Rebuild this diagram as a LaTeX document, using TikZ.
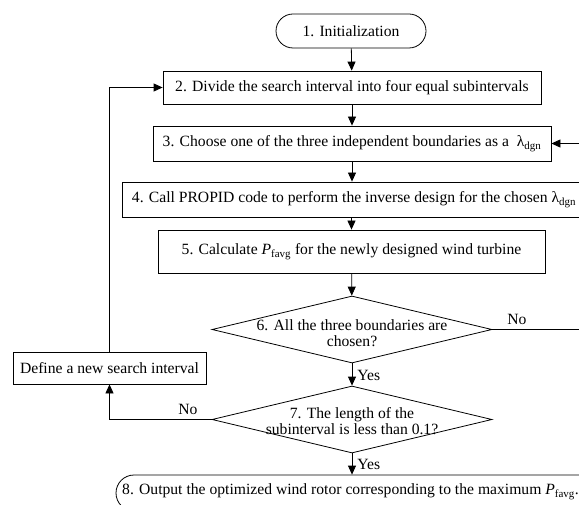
\documentclass[tikz,border=0pt]{standalone}
\usepackage{fontspec}
\setmainfont{Liberation Serif}
\usetikzlibrary{arrows.meta,shapes.geometric}
\begin{document}
\begin{tikzpicture}[x=1bp,y=-1bp,
  every node/.style={font=\fontsize{15.7}{16.5}\selectfont},
  box/.style={draw,line width=0.8pt,inner sep=0pt,minimum height=34bp},
  term/.style={draw,line width=0.8pt,inner sep=0pt,rounded corners=17bp,minimum height=34bp},
  dia/.style={draw,diamond,line width=0.8pt,minimum width=280bp,minimum height=67bp,inner sep=0pt},
  arr/.style={-{Triangle[length=9bp,width=8bp]},line width=0.8pt},
  lbl/.style={inner sep=1pt},
  yeslbl/.style={inner sep=1pt,right,xshift=4bp}]
\useasboundingbox (0,0) rectangle (579,505);
\clip (0,0) rectangle (579,505);
\node[term,minimum width=150bp] (n1) at (351,31) {1. Initialization};
\node[box,minimum width=378bp,minimum height=33bp] (n2) at (352,87.5) {2. Divide the search interval into four equal subintervals};
\node[box,minimum width=398bp,minimum height=35bp] (n3) at (352,143.5) {3. Choose one of the three independent boundaries as a\ \ λ\textsubscript{dgn}};
\node[box,minimum width=463bp,minimum height=35bp] (n4) at (354,199.5) {4. Call PROPID code to perform the inverse design for the chosen λ\textsubscript{dgn}};
\node[box,minimum width=387bp,minimum height=43bp] (n5) at (351.5,251.5) {5. Calculate \textit{P}\textsubscript{favg} for the newly designed wind turbine};
\node[dia] (d6) at (352,329.5) {};
\node[align=center] (d6t) at (352,333) {6. All the three boundaries are\\chosen?};
\node[dia] (d7) at (352,419.5) {};
\node[align=center] (d7t) at (352,421) {7. The length of the\\subinterval is less than 0.1?};
\node[box,minimum width=193bp,minimum height=32bp] (def) at (109.5,368) {Define a new search interval};
\node[term,rounded corners=18bp,minimum width=490bp,minimum height=36bp] (n8) at (361,493) {};
\node[anchor=west,inner sep=0pt] (n8t) at (122,492) {8. Output the optimized wind rotor corresponding to the maximum \textit{P}\textsubscript{favg}.};
\coordinate (r6) at (585,329.5);
\draw[arr] (n1) -- (n2);
\draw[arr] (n2) -- (n3);
\draw[arr] (n3.south) -- (n3.south |- n4.north);
\draw[arr] (n4.south -| n5.north) -- (n5.north);
\draw[arr] (n5) -- (d6);
\draw[arr] (d6.south) -- node[yeslbl,pos=0.55] (y6) {Yes} (d7.north);
\draw[arr] (d7.south) -- node[yeslbl,pos=0.5] (y7) {Yes} (d7.south |- n8.north);
\draw[arr] (d6.east) -- (r6) |- (n3.east);
\node[lbl] (no6) at (517,319) {No};
\draw[arr] (d7.west) -| (def.south);
\node[lbl] (no7) at (188,409) {No};
\draw[arr] (def.north) |- (n2.west);
\end{tikzpicture}
\end{document}
